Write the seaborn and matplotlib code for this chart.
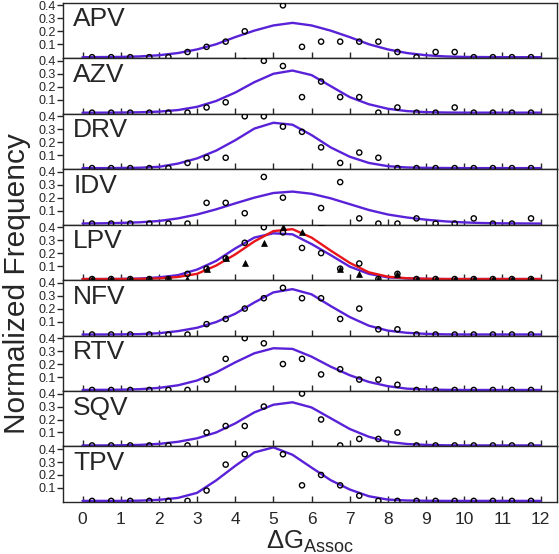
import numpy as np
import pandas as pd
import matplotlib.pyplot as plt
import seaborn as sns

# bins of 0.5 kcal/mol, the fits are sampled every 0.5 from 0 to 12
bin_x = np.arange(0.25, 12.0, 0.5)
fit_x = np.arange(0.0, 12.01, 0.5)

drugs = ["APV", "AZV", "DRV", "IDV", "LPV", "NFV", "RTV", "SQV", "TPV"]

# normalized frequencies (values above 0.4 are cut off by the panel)
apv_pts = [0, 0, 0, 0, 0, 0.04, 0.08, 0.12, 0.20, 0.48, 0.40, 0.08, 0.12, 0.12, 0.12, 0.12, 0.04, 0, 0.04, 0.04, 0, 0, 0, 0]
azv_pts = [0, 0, 0, 0, 0, 0, 0.04, 0.08, 0.44, 0.40, 0.36, 0.12, 0.24, 0.12, 0.12, 0, 0.04, 0, 0, 0.04, 0, 0, 0, 0]
drv_pts = [0, 0, 0, 0, 0, 0.04, 0.08, 0.08, 0.40, 0.40, 0.32, 0.28, 0.16, 0.04, 0.12, 0.08, 0, 0, 0, 0, 0, 0, 0, 0]
idv_pts = [0, 0, 0, 0, 0, 0, 0.16, 0.16, 0.08, 0.36, 0.20, 0.44, 0.12, 0.32, 0.04, 0, 0, 0.04, 0, 0, 0.04, 0, 0, 0.04]
lpv_pts = [0, 0, 0, 0, 0, 0.04, 0.08, 0.16, 0.28, 0.40, 0.36, 0.24, 0.20, 0.08, 0.12, 0, 0.04, 0, 0, 0, 0, 0, 0, 0]
lpv_tri = [0, 0, 0, 0, 0, 0, 0.08, 0.16, 0.12, 0.28, 0.40, 0.36, 0.44, 0.08, 0.04, 0, 0.04, 0, 0, 0, 0, 0, 0, 0]
nfv_pts = [0, 0, 0, 0, 0, 0, 0.08, 0.12, 0.20, 0.28, 0.36, 0.28, 0.28, 0.12, 0.20, 0.04, 0.04, 0, 0, 0, 0, 0, 0, 0]
rtv_pts = [0, 0, 0, 0, 0, 0, 0.08, 0.24, 0.40, 0.36, 0.20, 0.24, 0.12, 0.16, 0.08, 0.08, 0.04, 0, 0, 0, 0, 0, 0, 0]
sqv_pts = [0, 0, 0, 0, 0, 0, 0.10, 0.15, 0.15, 0.30, 0.50, 0.40, 0.20, 0, 0.05, 0.05, 0.10, 0, 0, 0, 0, 0, 0, 0]
tpv_pts = [0, 0, 0, 0, 0, 0, 0.08, 0.28, 0.36, 0.44, 0.36, 0.12, 0.20, 0.12, 0.04, 0, 0, 0, 0, 0, 0, 0, 0, 0]

# fitted curves
apv_fit = [0, 0.001, 0.002, 0.006, 0.015, 0.032, 0.06, 0.10, 0.155, 0.205, 0.245, 0.265, 0.245, 0.205, 0.155, 0.10, 0.06, 0.032, 0.015, 0.006, 0.002, 0.001, 0, 0, 0]
azv_fit = [0, 0, 0.001, 0.003, 0.008, 0.02, 0.045, 0.09, 0.155, 0.235, 0.30, 0.325, 0.29, 0.205, 0.12, 0.065, 0.03, 0.012, 0.004, 0.001, 0, 0, 0, 0, 0]
drv_fit = [0, 0, 0.001, 0.003, 0.01, 0.035, 0.075, 0.135, 0.215, 0.305, 0.35, 0.335, 0.255, 0.16, 0.088, 0.04, 0.015, 0.005, 0.002, 0.001, 0, 0, 0, 0, 0]
idv_fit = [0.001, 0.002, 0.005, 0.01, 0.02, 0.04, 0.07, 0.11, 0.156, 0.20, 0.236, 0.247, 0.23, 0.195, 0.15, 0.105, 0.07, 0.047, 0.03, 0.017, 0.009, 0.004, 0.002, 0.001, 0]
lpv_fit = [0, 0, 0.001, 0.004, 0.013, 0.03, 0.073, 0.14, 0.236, 0.32, 0.353, 0.345, 0.27, 0.185, 0.096, 0.04, 0.013, 0.005, 0.001, 0, 0, 0, 0, 0, 0]
lpv_fit2 = [0, 0, 0, 0.001, 0.005, 0.016, 0.04, 0.104, 0.19, 0.29, 0.37, 0.385, 0.32, 0.22, 0.125, 0.052, 0.018, 0.006, 0.002, 0, 0, 0, 0, 0, 0]
nfv_fit = [0, 0, 0.001, 0.003, 0.01, 0.026, 0.052, 0.096, 0.16, 0.247, 0.325, 0.35, 0.31, 0.22, 0.135, 0.068, 0.03, 0.013, 0.005, 0.001, 0, 0, 0, 0, 0]
rtv_fit = [0, 0.001, 0.002, 0.006, 0.016, 0.036, 0.073, 0.135, 0.213, 0.283, 0.322, 0.317, 0.257, 0.18, 0.114, 0.062, 0.029, 0.01, 0.004, 0.001, 0, 0, 0, 0, 0]
sqv_fit = [0, 0, 0.001, 0.004, 0.012, 0.028, 0.055, 0.10, 0.17, 0.255, 0.314, 0.333, 0.293, 0.21, 0.127, 0.067, 0.028, 0.011, 0.004, 0.001, 0, 0, 0, 0, 0]
tpv_fit = [0, 0, 0, 0.002, 0.008, 0.023, 0.062, 0.158, 0.27, 0.374, 0.413, 0.356, 0.257, 0.16, 0.088, 0.036, 0.01, 0.003, 0.001, 0, 0, 0, 0, 0, 0]

points = [apv_pts, azv_pts, drv_pts, idv_pts, lpv_pts, nfv_pts, rtv_pts, sqv_pts, tpv_pts]
fits = [apv_fit, azv_fit, drv_fit, idv_fit, lpv_fit, nfv_fit, rtv_fit, sqv_fit, tpv_fit]

pts_df = pd.concat([pd.DataFrame({"drug": d, "x": bin_x, "y": p}) for d, p in zip(drugs, points)])
fit_df = pd.concat([pd.DataFrame({"drug": d, "x": fit_x, "y": f}) for d, f in zip(drugs, fits)])
tri_df = pd.DataFrame({"x": bin_x, "y": lpv_tri})
fit2_df = pd.DataFrame({"x": fit_x, "y": lpv_fit2})

sns.set_style("ticks")
plt.rcParams["font.family"] = ["Liberation Sans", "DejaVu Sans"]

purple = "#5a22d8"
red = "#e8151b"

fig, axes = plt.subplots(9, 1, figsize=(5.59, 5.54), dpi=100, sharex=True)
fig.subplots_adjust(left=0.1135, right=0.9964, top=0.995, bottom=0.094, hspace=0)

for ax, d in zip(axes, drugs):
    sns.lineplot(data=fit_df[fit_df.drug == d], x="x", y="y", color=purple, lw=1.7, ax=ax)
    if d == "LPV":
        sns.lineplot(data=fit2_df, x="x", y="y", color=red, lw=1.7, ax=ax)
        sns.scatterplot(data=tri_df, x="x", y="y", marker="^", s=18, color="black",
                        edgecolor="black", linewidth=0.5, ax=ax, zorder=3)
    sns.scatterplot(data=pts_df[pts_df.drug == d], x="x", y="y", marker="o", s=14,
                    facecolors="none", edgecolors="black", linewidth=1.0, ax=ax, zorder=4)
    ax.set_xlim(-0.5, 12.43)
    ax.set_ylim(-0.008, 0.42)
    ax.set_yticks([0.1, 0.2, 0.3, 0.4])
    ax.set_yticklabels(["0.1", "0.2", "0.3", "0.4"])
    ax.set_xticks(range(13))
    ax.tick_params(axis="x", direction="in", length=4, width=1, labelsize=12.5, pad=7)
    ax.tick_params(axis="y", direction="out", length=4, width=1, labelsize=9, pad=1.5)
    for s in ax.spines.values():
        s.set_linewidth(1.0)
    ax.set_xlabel("")
    ax.set_ylabel("")
    ax.text(0.02, 0.70, d, transform=ax.transAxes, fontsize=19, ha="left", va="center")

axes[-1].set_xlabel("ΔG$_\\mathregular{Assoc}$", fontsize=18.5, labelpad=1)
fig.text(0.031, 0.489, "Normalized Frequency", rotation=90, ha="center", va="center", fontsize=21.5)

fig.savefig("out.png", dpi=100)
